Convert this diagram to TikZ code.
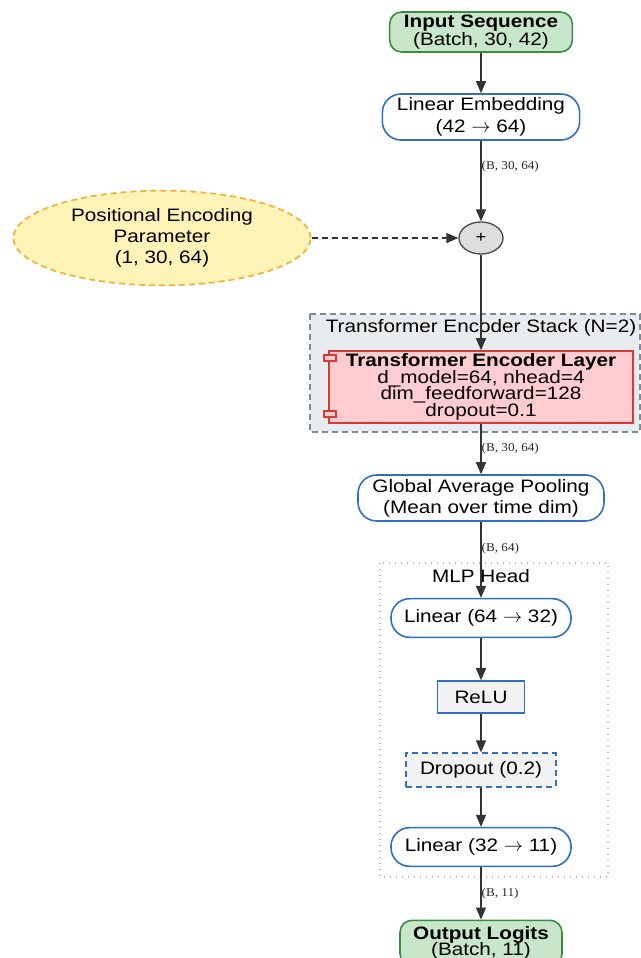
\documentclass[tikz,border=0pt]{standalone}
\usepackage{fontspec}
\setmainfont[FakeStretch=1.15]{Liberation Sans}
\newfontfamily\lblfont[FakeStretch=1.1]{Liberation Serif}
\usetikzlibrary{arrows.meta, shapes.geometric, positioning}
\definecolor{ioGreen}{HTML}{C8E6C9}
\definecolor{ioGreenLine}{HTML}{3C8C40}
\definecolor{layerBlue}{HTML}{2F70C4}
\definecolor{peYellow}{HTML}{FFF4B8}
\definecolor{peOrange}{HTML}{F2B233}
\definecolor{stackGray}{HTML}{E9ECEF}
\definecolor{stackLine}{HTML}{7D8B97}
\definecolor{encRed}{HTML}{FFCCD0}
\definecolor{encRedLine}{HTML}{D33A3A}
\definecolor{mlpLine}{HTML}{A9B8C6}

\begin{document}
\begin{tikzpicture}[x=0.75pt, y=-0.75pt,
        >={Triangle[length=9pt, width=7.5pt]},
        every node/.style={font=\fontsize{13.5}{16}\selectfont, align=center, inner sep=1pt},
        iobox/.style={draw=ioGreenLine, fill=ioGreen, line width=1.2pt, rounded corners=9pt},
        layerbox/.style={draw=layerBlue, fill=white, line width=1.2pt, rounded corners=14pt},
        plainbox/.style={draw=layerBlue, fill=black!5, line width=1.2pt},
        longdash/.style={dash pattern=on 4.5pt off 3pt},
        flow/.style={->, draw=black!80, line width=1pt},
        lbl/.style={font=\lblfont\fontsize{9}{10}\selectfont, text=black!85, inner sep=0pt, right}]

        \useasboundingbox (0,0) rectangle (641,958);

        % Clusters
        \draw[fill=stackGray, draw=stackLine, longdash, line width=0.9pt]
          (310,314) rectangle (640,432);
        \node (stacklbl) at (481,328) {Transformer Encoder Stack (N=2)};
        \draw[draw=mlpLine, dash pattern=on 1pt off 3.5pt, line width=1pt] (380,563) rectangle (608,877);
        \node (mlplbl) at (481,576) {MLP Head};

        % Input and embedding
        \node[iobox, minimum width=137pt, minimum height=30pt] (input) at (481,32)
          {\textbf{Input Sequence}\\[-3pt](Batch, 30, 42)};
        \node[layerbox, minimum width=148pt, minimum height=34.5pt] (embed) at (481,117)
          {Linear Embedding\\(42 $\rightarrow$ 64)};

        % Positional encoding
        \node[ellipse, draw=peOrange, fill=peYellow, longdash, line width=1.3pt,
              minimum width=223pt, minimum height=71pt] (posenc) at (162,238)
          {Positional Encoding\\Parameter\\(1, 30, 64)};
        \node[ellipse, draw=black!70, fill=black!13, line width=1pt,
              minimum width=33pt, minimum height=24pt, inner sep=0pt,
              font=\fontsize{12}{12}\selectfont] (plus) at (481,238) {+};

        % Encoder layer
        \node[draw=encRedLine, fill=encRed, line width=1.2pt,
              minimum width=228pt, minimum height=54pt] (encoder) at (481,387)
          {\textbf{Transformer Encoder Layer}\\[-3.5pt]d\_model=64, nhead=4\\[-3.5pt]dim\_feedforward=128\\[-3.5pt]dropout=0.1};
        \draw[draw=encRedLine, fill=encRed, line width=1pt] (324,355) rectangle (336,361);
        \draw[draw=encRedLine, fill=encRed, line width=1pt] (324,411) rectangle (336,417);

        % Pooling and MLP head
        \node[layerbox, minimum width=184.5pt, minimum height=34.5pt] (pool) at (481,498)
          {Global Average Pooling\\(Mean over time dim)};
        \node[layerbox, minimum width=135pt, minimum height=29pt] (fc1) at (481,618)
          {Linear (64 $\rightarrow$ 32)};
        \node[plainbox, minimum width=65pt, minimum height=24pt] (relu) at (481,697) {ReLU};
        \node[plainbox, longdash, line width=1.4pt, minimum width=112pt, minimum height=25pt] (drop) at (481,770)
          {Dropout (0.2)};
        \node[layerbox, minimum width=135pt, minimum height=29pt] (fc2) at (481,847)
          {Linear (32 $\rightarrow$ 11)};
        \node[iobox, minimum width=121.5pt, minimum height=34pt] (output) at (481,943)
          {\textbf{Output Logits}\\[-4pt](Batch, 11)};

        % Edges
        \draw[flow] (input) -- (embed);
        \draw[flow] (embed) -- node[lbl, pos=0.32] {(B, 30, 64)} (plus);
        \draw[flow, longdash] (posenc) -- (plus);
        \draw[flow] (plus) -- (encoder);
        \draw[flow] (encoder) -- node[lbl, pos=0.5] {(B, 30, 64)} (pool);
        \draw[flow] (pool) -- node[lbl, pos=0.35] {(B, 64)} (fc1);
        \draw[flow] (fc1) -- (relu);
        \draw[flow] (relu) -- (drop);
        \draw[flow] (drop) -- (fc2);
        \draw[flow] (fc2) -- node[lbl, pos=0.5] {(B, 11)} (output);

    \end{tikzpicture}
\end{document}
